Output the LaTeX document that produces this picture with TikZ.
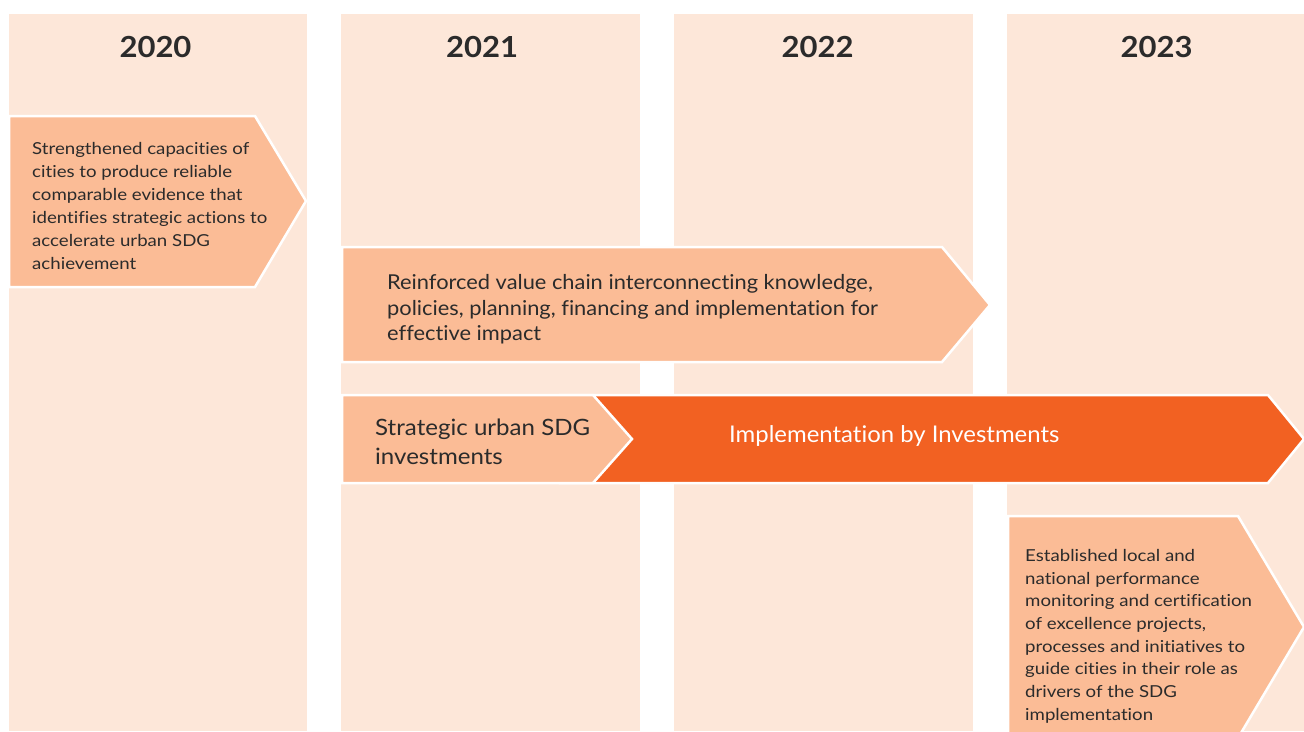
\documentclass[tikz,border=0pt]{standalone}
\usepackage{fontspec}
\setmainfont[Ligatures=NoCommon]{Lato}
\newfontfamily\smallfont[Ligatures=NoCommon,FakeStretch=1.13]{Lato}
\newfontfamily\midfont[Ligatures=NoCommon,FakeStretch=1.07]{Lato}
\newfontfamily\bigfont[Ligatures=NoCommon,FakeStretch=1.04]{Lato}
\newfontfamily\widefont[Ligatures=NoCommon,FakeStretch=1.065]{Lato}
\newfontfamily\yearfont[FakeStretch=1.07]{Lato}
\definecolor{colbg}{HTML}{FDE7D9}
\definecolor{arrlight}{HTML}{FBBC96}
\definecolor{arrdark}{HTML}{F26122}
\definecolor{txt}{HTML}{2B2B2B}
\begin{document}
\begin{tikzpicture}[x=1pt,y=-1pt,
  column/.style={fill=colbg,draw=none},
  lightarrow/.style={fill=arrlight,draw=white,line width=2.5pt,line join=miter},
  darkarrow/.style={fill=arrdark,draw=white,line width=2.5pt,line join=miter},
  year/.style={font=\yearfont\fontsize{29}{34}\selectfont\bfseries,text=txt,anchor=base,inner sep=0pt},
  bodytext/.style={text=txt,anchor=north west,inner sep=0pt,align=left}]
\useasboundingbox (0,0) rectangle (1304,731);
\fill[white] (0,0) rectangle (1304,731);
\begin{scope}
\clip (0,0) rectangle (1304,731);
% columns
\path[column] (9,14) rectangle (307,731);
\path[column] (341,14) rectangle (640,731);
\path[column] (674,14) rectangle (973,731);
\path[column] (1007,14) rectangle (1304,731);
% years
\node[year] (y2020) at (155.5,57) {2020};
\node[year] (y2021) at (482,57) {2021};
\node[year] (y2022) at (817.5,57) {2022};
\node[year] (y2023) at (1156.5,57) {2023};
% arrows
\draw[lightarrow] (9,116) -- (255,116) -- (306,201) -- (255,287) -- (9,287) -- cycle;
\draw[lightarrow] (342,247) -- (942,247) -- (990,305) -- (942,362) -- (342,362) -- cycle;
\draw[darkarrow] (560,395) -- (1268,395) -- (1304,439) -- (1268,483) -- (560,483) -- cycle;
\draw[lightarrow] (342,395) -- (593,395) -- (632,439) -- (593,483) -- (342,483) -- cycle;
\draw[lightarrow] (1008,516) -- (1238,516) -- (1304,627) -- (1238,738) -- (1008,738) -- cycle;
\end{scope}
% texts
\node[bodytext,font=\smallfont\fontsize{16.5}{23}\selectfont] (t1) at (32,142)
 {Strengthened capacities of\\cities to produce reliable\\comparable evidence that\\identifies strategic actions to\\accelerate urban SDG\\achievement};
\node[bodytext,font=\widefont\fontsize{20.5}{25.5}\selectfont] (t2) at (387,274.5)
 {Reinforced value chain interconnecting knowledge,\\policies, planning, financing and implementation for\\effective impact};
\node[bodytext,font=\midfont\fontsize{22.5}{29}\selectfont] (t3) at (375,419)
 {Strategic urban SDG\\investments};
\node[inner sep=0pt,anchor=base west,text=white,font=\bigfont\fontsize{23}{28}\selectfont] (t4) at (729,442)
 {Implementation by Investments};
\node[bodytext,font=\smallfont\fontsize{16.5}{22.7}\selectfont] (t5) at (1025,549)
 {Established local and\\national performance\\monitoring and certification\\of excellence projects,\\processes and initiatives to\\guide cities in their role as\\drivers of the SDG\\implementation};
\end{tikzpicture}
\end{document}
